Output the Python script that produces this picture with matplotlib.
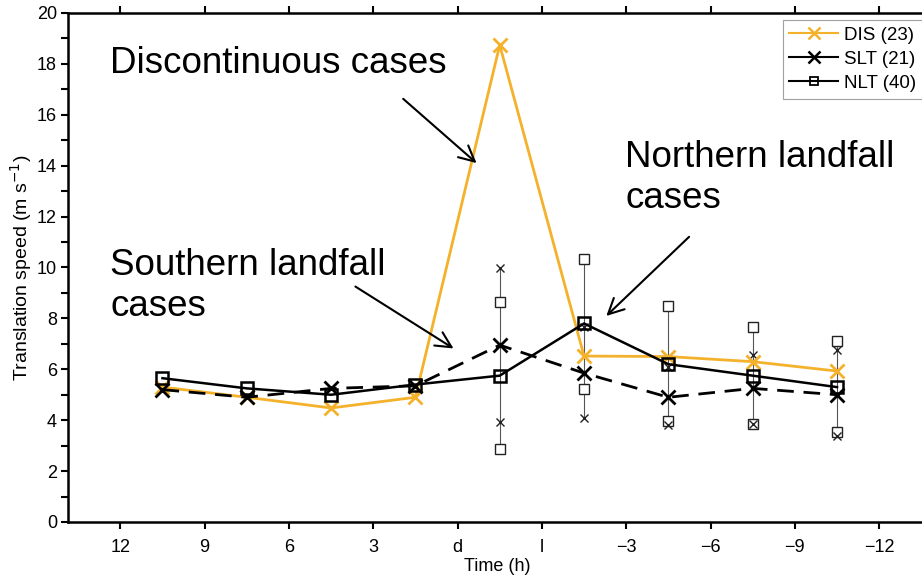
import matplotlib
matplotlib.use("Agg")
import matplotlib.pyplot as plt
from matplotlib.lines import Line2D

plt.rcParams['font.family'] = ['Liberation Sans', 'DejaVu Sans']

# ---- data ----
tick_labels = ['12', '9', '6', '3', 'd', 'l', '\u22123', '\u22126', '\u22129', '\u221212']
x_pos = [0.5, 1.5, 2.5, 3.5, 4.5, 5.5, 6.5, 7.5, 8.5]

dis = [5.3, 4.9, 4.48, 4.9, 18.74, 6.52, 6.5, 6.3, 5.93]
slt = [5.2, 4.9, 5.25, 5.35, 6.95, 5.85, 4.9, 5.25, 5.0]
nlt = [5.65, 5.25, 5.0, 5.4, 5.75, 7.8, 6.2, 5.75, 5.3]

err_x = [4.5, 5.5, 6.5, 7.5, 8.5]
slt_hi = [9.98, 7.65, 6.1, 6.56, 6.75]
slt_lo = [3.93, 4.09, 3.8, 3.85, 3.38]
nlt_hi = [8.64, 10.33, 8.5, 7.66, 7.1]
nlt_lo = [2.87, 5.23, 3.97, 3.85, 3.53]

legend_labels = ['DIS (23)', 'SLT (21)', 'NLT (40)']

orange = '#F4B22C'

fig = plt.figure(figsize=(9.22, 5.82), dpi=100)
ax = fig.add_axes([0.0738, 0.1031, 0.93, 0.8746])

# error bars (span from lowest to highest end of both groups)
for xi, a, b, c, d in zip(err_x, slt_lo, slt_hi, nlt_lo, nlt_hi):
    ax.plot([xi, xi], [min(a, c), max(b, d)], color='#555555', lw=0.8, zorder=1)
ax.plot(err_x, nlt_hi, ls='none', marker='s', ms=7, mfc='white', mec='#222222', mew=1.0, zorder=2)
ax.plot(err_x, nlt_lo, ls='none', marker='s', ms=7, mfc='white', mec='#222222', mew=1.0, zorder=2)
ax.plot(err_x, slt_hi, ls='none', marker='x', ms=6, mec='#222222', mew=1.0, zorder=2)
ax.plot(err_x, slt_lo, ls='none', marker='x', ms=6, mec='#222222', mew=1.0, zorder=2)

ax.plot(x_pos, dis, color=orange, lw=2, marker='x', ms=10, mew=2, zorder=3)
ax.plot(x_pos, slt, color='black', lw=2, ls=(0, (6, 3.5)), marker='x', ms=10, mew=2, zorder=4)
ax.plot(x_pos, nlt, color='black', lw=1.8, marker='s', ms=8, mfc='none', mew=1.8, zorder=5)

ax.set_xlim(-0.62, 9.55)
ax.set_ylim(0, 20)
ax.set_xticks(range(10))
ax.set_xticklabels(tick_labels)
ax.set_yticks(range(0, 21, 2))
ax.set_yticks(range(1, 20, 2), minor=True)
ax.tick_params(axis='y', which='both', direction='out', length=5, width=1.5, labelsize=13, pad=3)
ax.tick_params(axis='x', which='both', direction='out', length=5, width=1.5, top=True, labelsize=13, pad=7)
for s in ax.spines.values():
    s.set_linewidth(1.8)
ax.spines['right'].set_visible(False)

ax.set_xlabel('Time (h)', fontsize=13, labelpad=2)
ax.set_ylabel('Translation speed (m s$^{-1}$)', fontsize=14, labelpad=2)

handles = [
    Line2D([], [], color=orange, lw=1.5, marker='x', ms=9, mew=1.8),
    Line2D([], [], color='black', lw=1.5, marker='x', ms=9, mew=1.8),
    Line2D([], [], color='black', lw=1.5, marker='s', ms=6, mfc='none', mew=1.3),
]
leg = ax.legend(handles, legend_labels, loc='upper right',
                fontsize=13.5, frameon=True, fancybox=False,
                edgecolor='#888888', handlelength=2.6, handletextpad=0.3,
                borderpad=0.35, labelspacing=0.38, borderaxespad=0.0,
                bbox_to_anchor=(0.9965, 0.9865))
leg.get_frame().set_linewidth(0.8)

fs = 26.5
ax.text(-0.12, 18.03, 'Discontinuous cases', fontsize=fs, va='center', ha='left')
ax.text(5.99, 15.0, 'Northern landfall\ncases', fontsize=fs, va='top', ha='left', linespacing=1.22)
ax.text(-0.12, 10.78, 'Southern landfall\ncases', fontsize=fs, va='top', ha='left', linespacing=1.22)

ap = dict(arrowstyle='->', lw=1.5, color='black', mutation_scale=28)
ax.annotate('', xy=(4.25, 14.03), xytext=(3.33, 16.7), arrowprops=ap)
ax.annotate('', xy=(5.74, 8.02), xytext=(6.77, 11.28), arrowprops=ap)
ax.annotate('', xy=(3.98, 6.76), xytext=(2.76, 9.31), arrowprops=ap)

fig.savefig('out.png', dpi=100)
